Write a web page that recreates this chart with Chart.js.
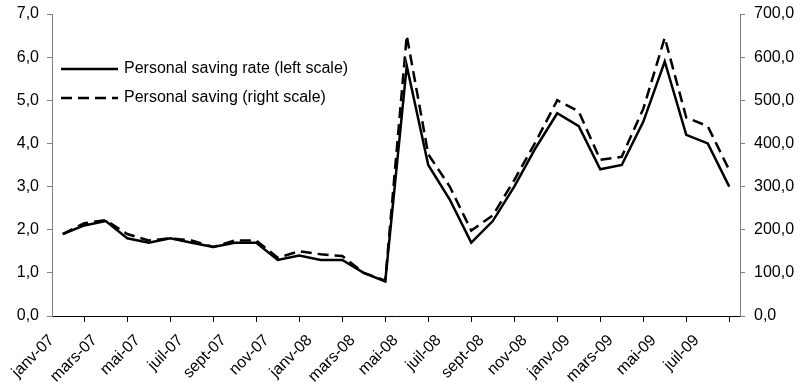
<!DOCTYPE html>
<html>
<head>
<meta charset="utf-8">
<script src="https://cdn.jsdelivr.net/npm/chart.js@4.4.1/dist/chart.umd.min.js"></script>
<style>
  body { margin: 0; background: #fff; }
  #wrap { width: 806px; height: 385px; }
</style>
</head>
<body>
<div id="wrap"><canvas id="myChart" width="806" height="385"></canvas></div>
<script>
// months jan 2007 -> aug 2009
const monthNames = ['janv', 'févr', 'mars', 'avr', 'mai', 'juin', 'juil', 'août', 'sept', 'oct', 'nov', 'déc'];
const years = ['07', '08', '09'];
const lastMonthCount = 8; // 2009 stops at août

const labels = [];
for (let y = 0; y < years.length; y++) {
  const n = (y === years.length - 1) ? lastMonthCount : 12;
  for (let m = 0; m < n; m++) {
    labels.push(monthNames[m] + '-' + years[y]);
  }
}

// personal saving rate, % (left scale)
const savingRate = [1.9, 2.1, 2.2, 1.8, 1.7, 1.8, 1.7, 1.6, 1.7, 1.7, 1.3, 1.4,
                    1.3, 1.3, 1.0, 0.8, 5.8, 3.5, 2.7, 1.7, 2.2, 3.0, 3.9, 4.7,
                    4.4, 3.4, 3.5, 4.5, 5.9, 4.2, 4.0, 3.0];

// personal saving, bn $ (right scale)
const saving = [190, 215, 222, 190, 175, 180, 175, 160, 175, 175, 135, 150,
                143, 139, 100, 82, 650, 375, 300, 198, 233, 315, 404, 500,
                474, 362, 369, 480, 645, 460, 440, 338];

const legendNames = ['Personal saving rate (left scale)', 'Personal saving (right scale)'];

const fontFam = '"Liberation Sans", Arial, sans-serif';
const fontSize = 16;

// turns 3.5 into '3,5'
function frNum(v) {
  return v.toFixed(1).replace('.', ',');
}

// legend drawn inside the plot, top left
const insideLegend = {
  id: 'insideLegend',
  afterDraw(chart) {
    const c = chart.ctx;
    const rows = [69, 98];
    c.save();
    c.font = fontSize + 'px ' + fontFam;
    c.textBaseline = 'middle';
    c.fillStyle = '#000';
    chart.data.datasets.forEach((ds, i) => {
      c.beginPath();
      c.lineWidth = ds.borderWidth;
      c.strokeStyle = ds.borderColor;
      c.setLineDash(ds.borderDash || []);
      c.moveTo(61, rows[i]);
      c.lineTo(118, rows[i]);
      c.stroke();
      c.fillText(legendNames[i], 124, rows[i]);
    });
    c.restore();
  }
};

const ctx = document.getElementById('myChart');

new Chart(ctx, {
  type: 'line',
  data: {
    labels: labels,
    datasets: [{
      label: legendNames[0],
      data: savingRate,
      yAxisID: 'y',
      borderColor: '#000',
      borderWidth: 2.5,
      pointRadius: 0,
      tension: 0
    }, {
      label: legendNames[1],
      data: saving,
      yAxisID: 'y2',
      borderColor: '#000',
      borderWidth: 2.5,
      borderDash: [11, 6],
      pointRadius: 0,
      tension: 0
    }]
  },
  options: {
    responsive: false,
    animation: false,
    layout: { padding: { top: 14, left: 0, right: 0, bottom: 0 } },
    plugins: {
      legend: { display: false },
      tooltip: { enabled: false }
    },
    scales: {
      x: {
        offset: true,
        grid: {
          offset: true,
          drawOnChartArea: false,
          color: '#000',
          tickLength: 6
        },
        border: { color: '#000', width: 1 },
        ticks: {
          autoSkip: false,
          minRotation: 45,
          maxRotation: 45,
          labelOffset: -11,
          padding: 9,
          color: '#000',
          font: { family: fontFam, size: fontSize },
          callback: function (val, idx) {
            return idx % 2 === 0 ? this.getLabelForValue(val) : null;
          }
        },
        afterFit: s => { s.height = 69; s.paddingLeft = 0; s.paddingRight = 0; }
      },
      y: {
        position: 'left',
        min: 0,
        max: 7,
        grid: { drawOnChartArea: false, color: '#808080', tickLength: 5 },
        border: { color: '#808080', width: 1 },
        ticks: {
          stepSize: 1,
          padding: 8,
          color: '#000',
          font: { family: fontFam, size: fontSize },
          callback: v => frNum(v)
        },
        afterFit: s => { s.width = 52; s.paddingTop = 0; s.paddingBottom = 0; }
      },
      y2: {
        position: 'right',
        min: 0,
        max: 700,
        grid: { drawOnChartArea: false, color: '#808080', tickLength: 5 },
        border: { color: '#808080', width: 1 },
        ticks: {
          stepSize: 100,
          padding: 9,
          color: '#000',
          font: { family: fontFam, size: fontSize },
          callback: v => frNum(v)
        },
        afterFit: s => { s.width = 66; s.paddingTop = 0; s.paddingBottom = 0; }
      }
    }
  },
  plugins: [insideLegend]
});
</script>
</body>
</html>
